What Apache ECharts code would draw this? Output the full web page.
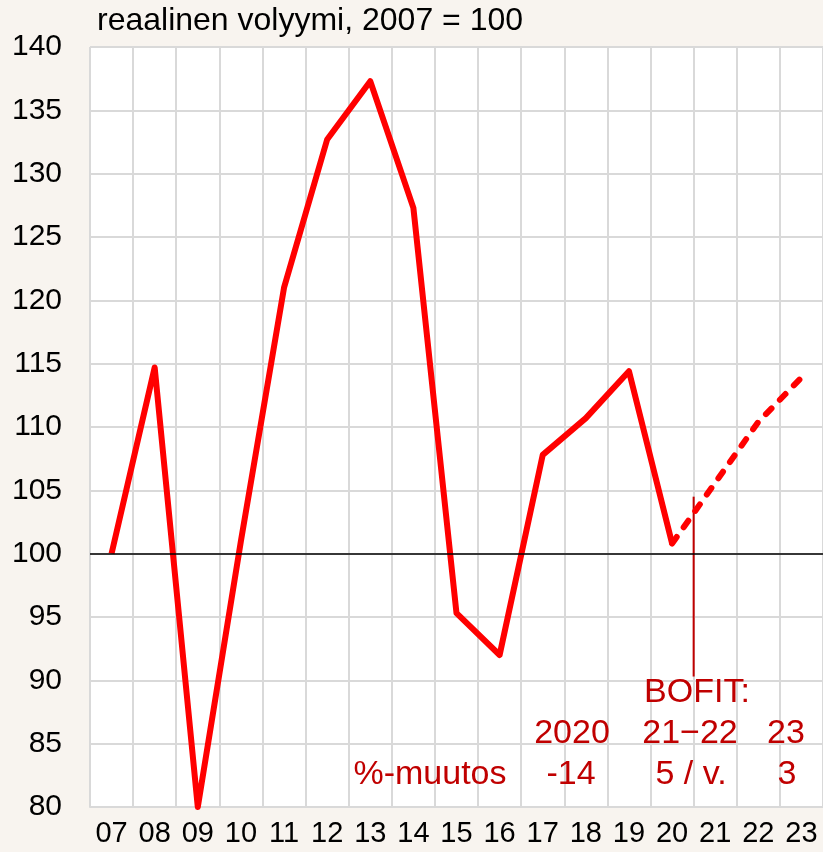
<!DOCTYPE html>
<html>
<head>
<meta charset="utf-8">
<script src="https://cdn.jsdelivr.net/npm/echarts@6/dist/echarts.min.js"></script>
<style>
  html, body { margin: 0; padding: 0; background: #f8f4ef; }
  #myChart { width: 823px; height: 852px; }
</style>
</head>
<body>
<div id="myChart"></div>
<script>
// vuodet (x-akseli)
var years = ['07', '08', '09', '10', '11', '12', '13', '14', '15', '16', '17', '18', '19', '20', '21', '22', '23']
// toteutunut volyymi 2007-2020
var actual = [100, 114.7, 80, 101, 121, 132.7, 137.3, 127.3, 95.3, 92, 107.8, 110.7, 114.4, 100.8, null, null, null]
// BOFIT-ennuste 2020-2023
var forecast = [null, null, null, null, null, null, null, null, null, null, null, null, null, 100.8, 105.6, 110.4, 113.9]
// pystyviiva ennusteen kohdalle [x-raja, y]
var bofitLine = [[14, 104.5], [14, 90.3]]

var red = '#ff0000'
var darkRed = '#c00000'
var txt = { fontFamily: 'Liberation Sans, Arial, sans-serif', fontSize: 34, fill: darkRed, align: 'center', verticalAlign: 'bottom' }

function label (text, x, y) {
  return { type: 'text', x: x, y: y, z: 100, silent: true, style: Object.assign({ text: text }, txt) }
}

var myChart = echarts.init(document.getElementById('myChart'))
myChart.setOption({
  backgroundColor: '#f8f4ef',
  animation: false,
  grid: { left: 90, top: 47, width: 737, bottom: 45, backgroundColor: '#ffffff', show: true, borderWidth: 0 },
  xAxis: [
    {
      type: 'category',
      data: years,
      boundaryGap: true,
      axisLine: { lineStyle: { color: '#d9d9d9', width: 2 } },
      axisTick: { show: false },
      axisLabel: { color: '#000', fontSize: 29, fontFamily: 'Liberation Sans Narrow, Arial Narrow, Liberation Sans, sans-serif', margin: 12, interval: 0 },
      splitLine: { show: true, lineStyle: { color: '#d9d9d9', width: 2 } }
    },
    {
      type: 'value', min: 0, max: 17, show: false
    }
  ],
  yAxis: {
    type: 'value',
    min: 80,
    max: 140,
    interval: 5,
    axisLine: { show: false },
    axisTick: { show: false },
    axisLabel: { color: '#000', fontSize: 30, fontFamily: 'Liberation Sans, Arial, sans-serif', margin: 28 },
    splitLine: { lineStyle: { color: '#d9d9d9', width: 2 } }
  },
  series: [
    {
      type: 'line',
      data: actual,
      symbol: 'none',
      lineStyle: { color: red, width: 6, join: 'round' },
      markLine: {
        silent: true,
        symbol: 'none',
        label: { show: false },
        lineStyle: { color: '#000', width: 1.5, type: 'solid' },
        data: [{ yAxis: 100 }]
      },
      z: 3
    },
    {
      type: 'line',
      data: forecast,
      symbol: 'none',
      lineStyle: { color: red, width: 6, type: [8, 12], cap: 'round' },
      z: 3
    },
    {
      type: 'line',
      xAxisIndex: 1,
      data: bofitLine,
      symbol: 'none',
      lineStyle: { color: darkRed, width: 2 },
      z: 2
    }
  ],
  graphic: [
    { type: 'text', left: 97, top: 5, z: 100, style: { text: 'reaalinen volyymi, 2007 = 100', fontFamily: 'Liberation Sans, Arial, sans-serif', fontSize: 32, fill: '#000' } },
    label('BOFIT:', 697, 710),
    label('2020', 572, 751),
    label('21\u221222', 690, 751),
    label('23', 786, 751),
    label('%-muutos', 430, 792),
    label('-14', 571, 792),
    label('5 / v.', 691, 792),
    label('3', 787, 792)
  ]
})
</script>
</body>
</html>
